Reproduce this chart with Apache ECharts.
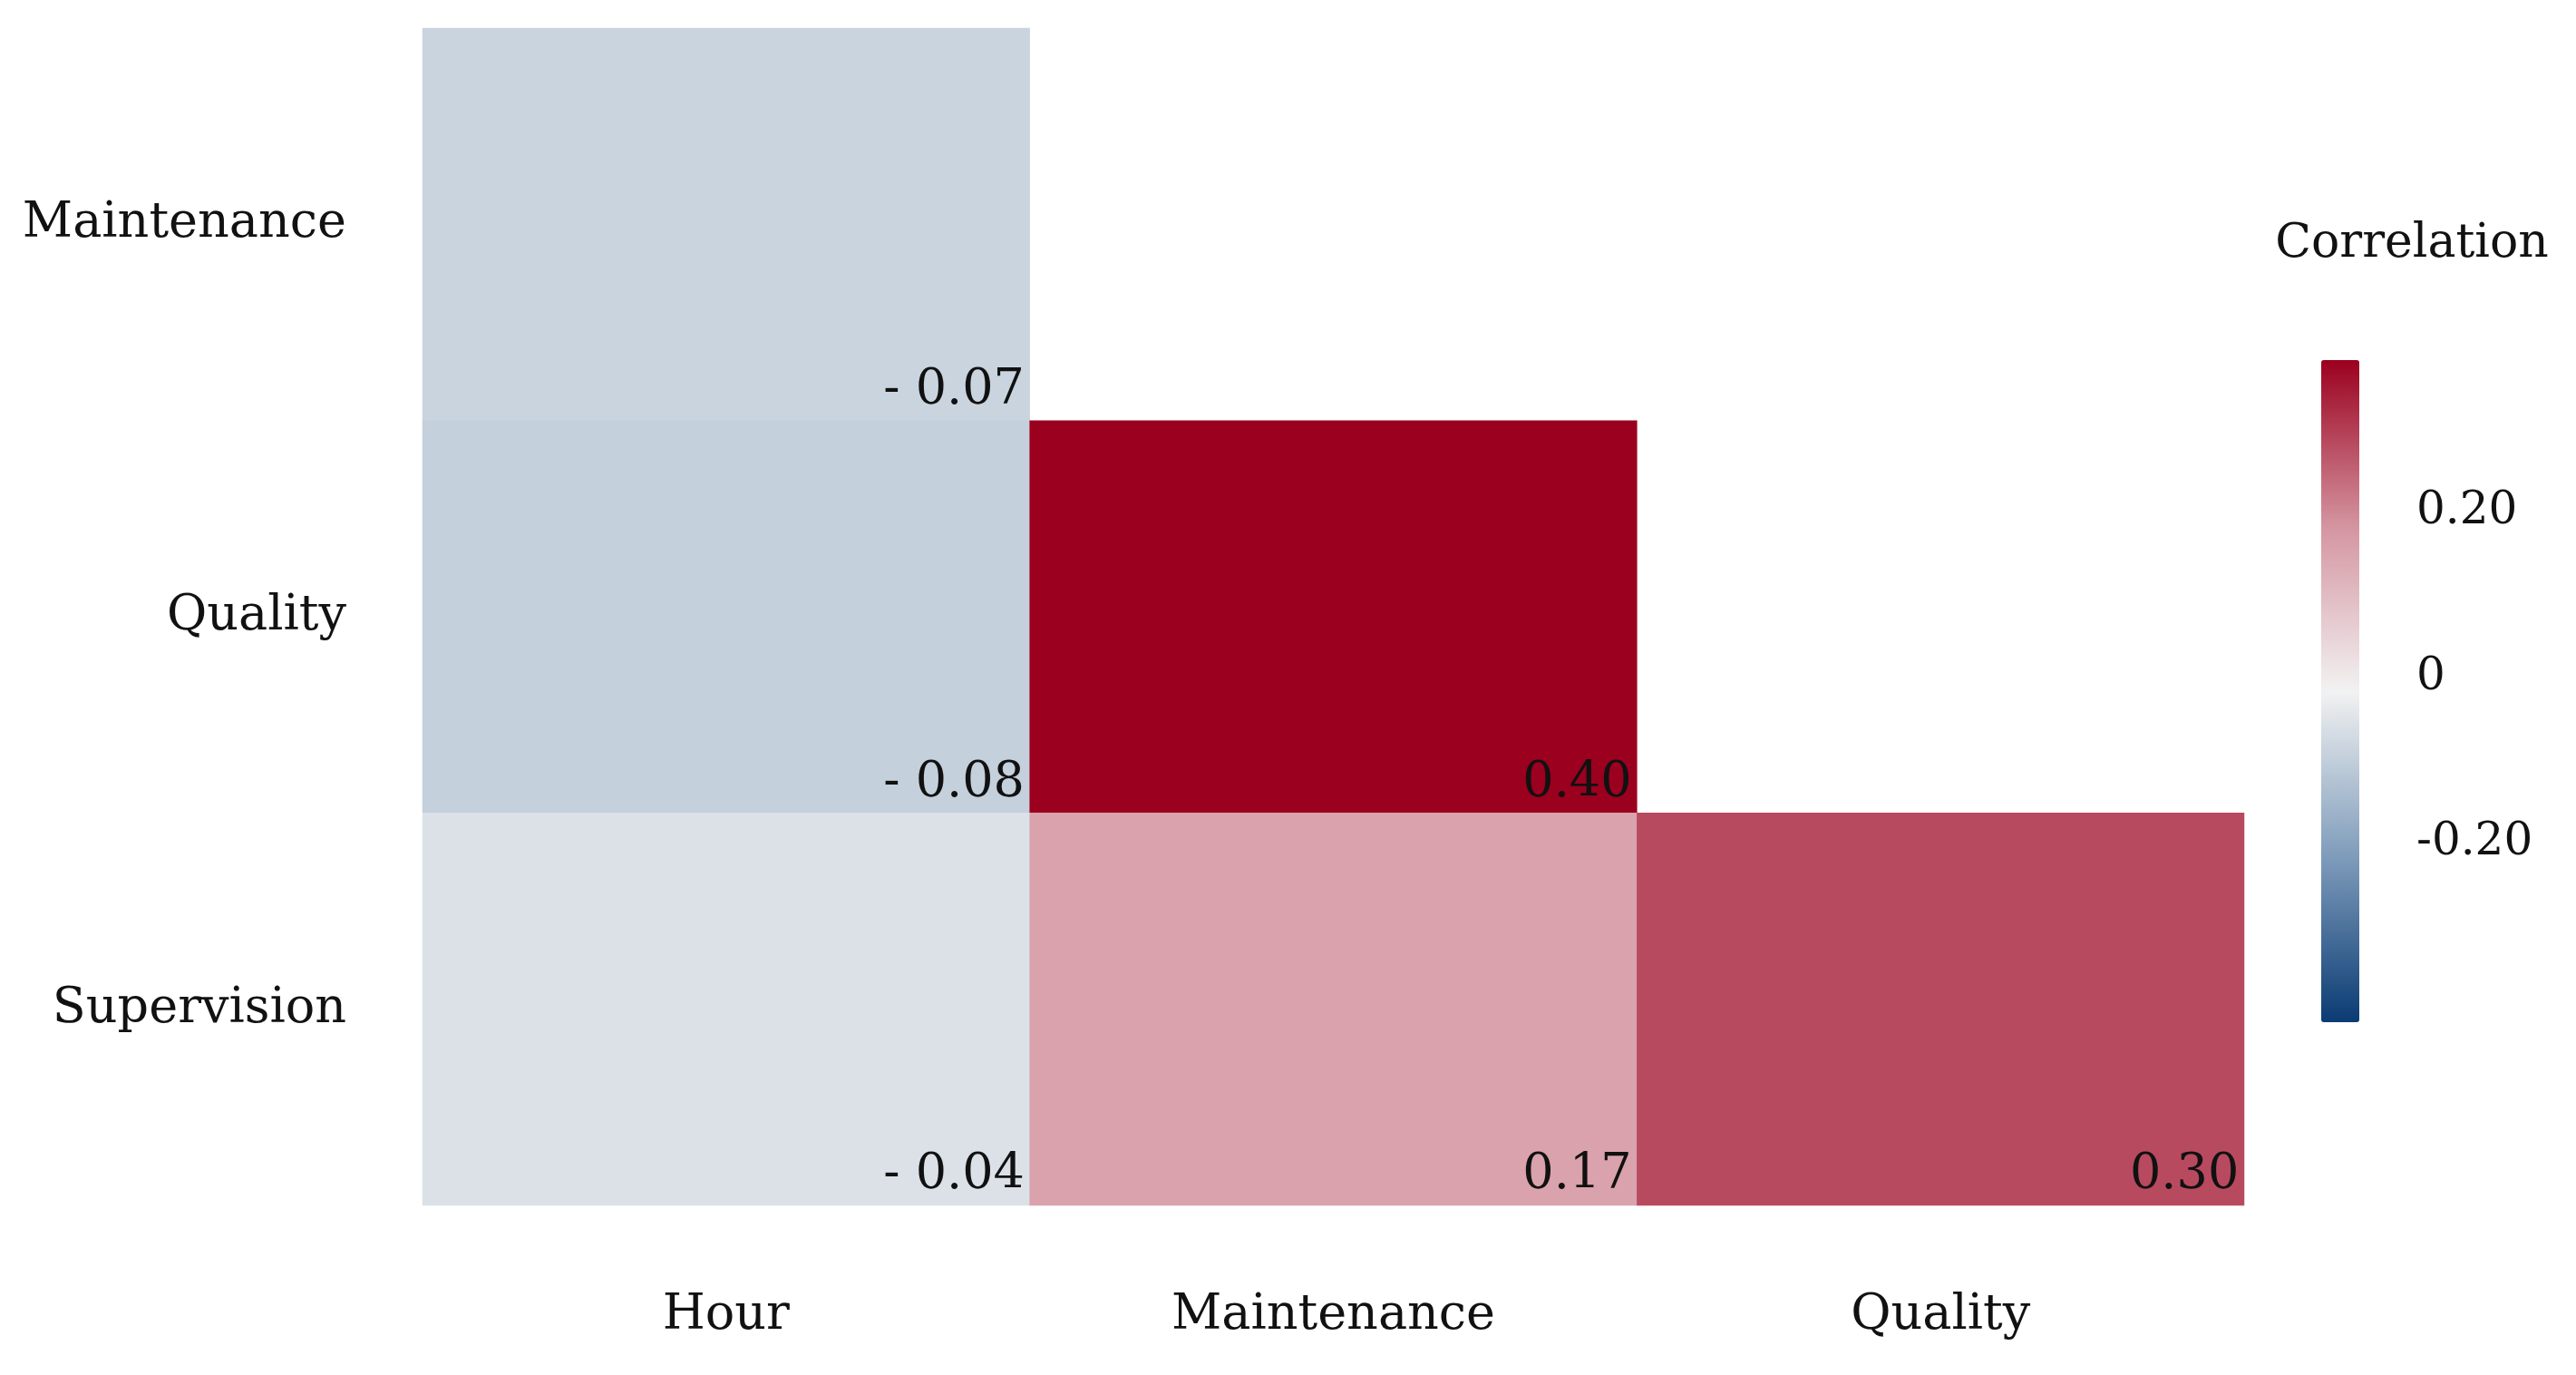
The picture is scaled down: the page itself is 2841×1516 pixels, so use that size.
<!DOCTYPE html><html><head><meta charset="utf-8">
<script src="https://cdn.jsdelivr.net/npm/echarts@6/dist/echarts.min.js"></script>
<style>html,body{margin:0;background:#fff}#c{width:2841px;height:1516px}</style></head><body><div id="c"></div>
<script>
const xCats = ['Hour', 'Maintenance', 'Quality'];
const yCats = ['Supervision', 'Quality', 'Maintenance'];
// [xIndex, yIndex, value]
const cells = [
  [0, 2, -0.07],
  [0, 1, -0.08],
  [1, 1, 0.40],
  [0, 0, -0.04],
  [1, 0, 0.17],
  [2, 0, 0.30]
];
const legendTicks = [-0.4, -0.2, 0, 0.2, 0.4];
const FONT = 'DejaVu Serif';
const fmt = v => v < 0 ? '- ' + Math.abs(v).toFixed(2) : v.toFixed(2);
const chart = echarts.init(document.getElementById('c'));
chart.setOption({
  backgroundColor: '#fff',
  animation: false,
  title: { text: 'Correlation', left: 2655, top: 238, textAlign: 'center',
    textStyle: { fontFamily: FONT, fontSize: 52, fontWeight: 'normal', color: '#111' } },
  grid: [
    { left: 466, right: 366, top: 31, bottom: 187 },
    { left: 2545, width: 42, top: 382, height: 730, z: 10 }
  ],
  xAxis: [
    { type: 'category', data: xCats, gridIndex: 0, axisLine: { show: false }, axisTick: { show: false },
      splitLine: { show: false },
      axisLabel: { margin: 95, fontFamily: FONT, fontSize: 54, color: '#111' } },
    { type: 'value', gridIndex: 1, show: false, min: 0, max: 1 }
  ],
  yAxis: [
    { type: 'category', data: yCats, gridIndex: 0, axisLine: { show: false }, axisTick: { show: false },
      splitLine: { show: false },
      axisLabel: { margin: 84, fontFamily: FONT, fontSize: 54, color: '#111' } },
    { type: 'value', gridIndex: 1, position: 'right', min: -0.4, max: 0.4, interval: 0.2, z: 20,
      axisLine: { show: false }, splitLine: { show: false },
      axisTick: { show: true, inside: true, length: 42, lineStyle: { color: '#fff', width: 3 } },
      axisLabel: { margin: 78, fontFamily: FONT, fontSize: 50, color: '#111',
        formatter: v => (Math.abs(v) > 0.3 ? '' : (v === 0 ? '0' : v.toFixed(2))) } }
  ],
  visualMap: {
    type: 'continuous', min: -0.4, max: 0.4, dimension: 2, seriesIndex: 0,
    left: 2545, top: 382, itemWidth: 42, itemHeight: 730, text: ['', ''],
    calculable: false, showLabel: false,
    inRange: { color: ['#0a3b73', '#7f9cbb', '#f2f2f2', '#d494a0', '#9b001e'] }
  },
  series: [{
    type: 'heatmap', xAxisIndex: 0, yAxisIndex: 0, data: cells,
    label: { show: true, position: 'insideBottomRight', distance: 6,
      fontFamily: FONT, fontSize: 54, color: '#111',
      formatter: p => fmt(p.value[2]) },
    emphasis: { disabled: true }
  }]
});
</script></body></html>
